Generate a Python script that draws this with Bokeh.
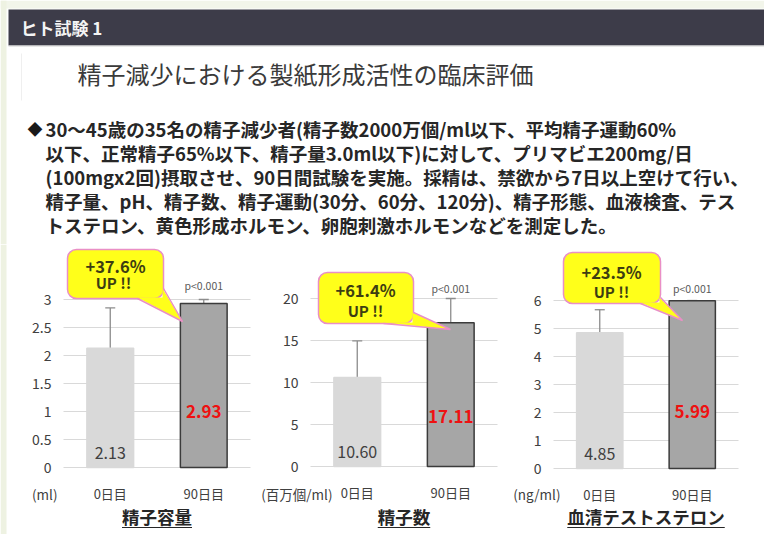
from bokeh.plotting import figure
from bokeh.layouts import column, row
from bokeh.models import (ColumnDataSource, Range1d, FixedTicker,
                          NumeralTickFormatter, Whisker)
from bokeh.core.properties import value
from bokeh.embed import file_html
from bokeh.resources import INLINE

FONT = "Noto Sans CJK JP"

# ---------------- data ----------------
header_text = "ヒト試験 1"
title_text = "精子減少における製紙形成活性の臨床評価"
paragraph_lines = [
    "30～45歳の35名の精子減少者(精子数2000万個/ml以下、平均精子運動60%",
    "以下、正常精子65%以下、精子量3.0ml以下)に対して、プリマビエ200mg/日",
    "(100mgx2回)摂取させ、90日間試験を実施。採精は、禁欲から7日以上空けて行い、",
    "精子量、pH、精子数、精子運動(30分、60分、120分)、精子形態、血液検査、テス",
    "トステロン、黄色形成ホルモン、卵胞刺激ホルモンなどを測定した。",
]

categories = ["0日目", "90日目"]

volume_mean = [2.13, 2.93]
volume_lower = [1.41, 2.00]
volume_upper = [2.85, 3.00]
volume_ticks = [0, 0.5, 1, 1.5, 2, 2.5, 3]

count_mean = [10.60, 17.11]
count_lower = [6.35, 8.25]
count_upper = [14.95, 20.0]
count_ticks = [0, 5, 10, 15, 20]

testo_mean = [4.85, 5.99]
testo_lower = [4.03, 4.93]
testo_upper = [5.67, 6.00]
testo_ticks = [0, 1, 2, 3, 4, 5, 6]

chart_titles = ["精子容量", "精子数", "血清テストステロン"]
unit_labels = ["(ml)", "(百万個/ml)", "(ng/ml)"]
increase_labels = ["+37.6%", "+61.4%", "+23.5%"]
up_label = "UP !!"
p_labels = ["p<0.001", "p<0.001", "p<0.001"]

# ---------------- style / layout (page pixels) ----------------
PAGE_W, PAGE_H = 764, 534
TOP_H = 244
TICK_SPAN_PX = 168
DARK = "#404040"
TEXT = "#262626"
YELLOW = "#ffff1a"
PINK = "#e98fc6"
MARGIN_GREEN = "#eef2e2"

chart_layout = [
    dict(ox=0, w=256, gx0=63, gx1=250, base=467, unit_right=57, red_y=411,
         box=(67, 298, 163, 249), b1x=137, b2y=288, tip=(182, 321),
         t1=(115, 265), t2=(113, 282), p_y=285, stripe=True),
    dict(ox=256, w=248, gx0=310, gx1=497, base=466, unit_right=332, red_y=416,
         box=(318, 323, 413, 272), b1x=383, b2y=312, tip=(450, 329),
         t1=(365, 289), t2=(365, 310), p_y=288, stripe=False),
    dict(ox=504, w=260, gx0=553, gx1=738, base=468, unit_right=560, red_y=411,
         box=(563, 303, 660, 252), b1x=640, b2y=297, tip=(682, 320),
         t1=(611, 271), t2=(611, 291), p_y=288, stripe=False),
]
TITLE_FS = 17.5


def make_chart(means, lower, upper, ticks, title, unit, inc, ptxt, L):
    ymax = ticks[-1]
    cu = (L["gx1"] - L["gx0"]) / len(categories)

    def X(px):
        return (px - L["gx0"]) / cu

    def Y(py):
        return (L["base"] - py) * ymax / TICK_SPAN_PX

    xs = [i + 0.5 for i in range(len(categories))]

    p = figure(width=L["w"], height=PAGE_H - TOP_H,
               x_range=Range1d(X(L["ox"]), X(L["ox"] + L["w"])),
               y_range=Range1d(Y(PAGE_H), Y(TOP_H)),
               output_backend="svg", toolbar_location=None)
    p.min_border = 0
    p.outline_line_color = None
    p.background_fill_color = "white"
    p.border_fill_color = "white"

    if L["stripe"]:
        p.quad(left=X(0), right=X(6), bottom=Y(PAGE_H), top=Y(TOP_H),
               fill_color=MARGIN_GREEN, line_color=None)

    # axes drawn inside the frame
    p.xaxis.fixed_location = 0
    p.yaxis.fixed_location = 0
    p.xaxis.ticker = FixedTicker(ticks=xs)
    p.xaxis.major_label_overrides = {x: c for x, c in zip(xs, categories)}
    p.yaxis.ticker = FixedTicker(ticks=ticks)
    p.yaxis.formatter = NumeralTickFormatter(format="0.[0]")
    for ax in (p.xaxis, p.yaxis):
        ax.axis_line_color = None
        ax.major_tick_line_color = None
        ax.minor_tick_line_color = None
        ax.major_tick_out = 0
        ax.major_tick_in = 0
        ax.major_label_text_font = FONT
        ax.major_label_text_color = DARK
    p.yaxis.major_label_text_font_size = "14px"
    p.yaxis.major_label_standoff = 12
    p.xaxis.major_label_text_font_size = "13px"
    p.xaxis.major_label_standoff = 16

    p.xgrid.visible = False
    p.ygrid.ticker = FixedTicker(ticks=ticks)
    p.ygrid.grid_line_color = "#d9d9d9"
    p.ygrid.grid_line_width = 1
    try:
        p.ygrid.cross_bounds = (0, len(categories))
    except AttributeError:
        p.ygrid.visible = False
        p.segment(x0=[0] * len(ticks), x1=[len(categories)] * len(ticks),
                  y0=ticks, y1=ticks, line_color="#d9d9d9", line_width=1)

    src = ColumnDataSource(dict(
        x=xs, mean=means, lower=lower, upper=upper,
        fill=["#d9d9d9", "#a6a6a6"], line=["#d9d9d9", "#3b3b3b"]))
    p.vbar(x="x", top="mean", width=0.5, fill_color="fill",
           line_color="line", line_width=1.5, source=src)

    wh = Whisker(source=src, base="x", lower="lower", upper="upper",
                 line_color="#8c8c8c", line_width=1.3)
    for head in (wh.upper_head, wh.lower_head):
        head.size = 10
        head.line_color = "#8c8c8c"
        head.line_width = 1.3
    p.add_layout(wh)

    # value labels inside bars
    p.text(x=[xs[0]], y=[Y(L["base"] - 15)], text=[f"{means[0]:.2f}"],
           text_font=value(FONT), text_font_size="16px", text_color=DARK,
           text_align="center", text_baseline="middle")
    p.text(x=[xs[1]], y=[Y(L["red_y"])], text=[f"{means[1]:.2f}"],
           text_font=value(FONT), text_font_size="17px", text_font_style="bold",
           text_color="#ee1111", text_align="center", text_baseline="middle")

    # p value
    p.text(x=[xs[1]], y=[Y(L["p_y"])], text=[ptxt],
           text_font=value(FONT), text_font_size="10.5px", text_color="#595959",
           text_align="center", text_baseline="middle")

    # callout
    bx0, by0, bx1, by1 = L["box"]
    p.quad(left=X(bx0), right=X(bx1), bottom=Y(by0), top=Y(by1),
           fill_color=YELLOW, line_color=PINK, line_width=1.5, border_radius=9)
    tx, ty = L["tip"]
    p.patch(x=[X(L["b1x"]), X(tx), X(bx1 - 1), X(bx1 - 1)],
            y=[Y(by0 - 1), Y(ty), Y(L["b2y"]), Y(by0 - 1)],
            fill_color=YELLOW, line_color=None)
    p.line(x=[X(L["b1x"]), X(tx), X(bx1)], y=[Y(by0), Y(ty), Y(L["b2y"])],
           line_color=PINK, line_width=1.5)
    p.text(x=[X(L["t1"][0])], y=[Y(L["t1"][1])], text=[inc],
           text_font=value(FONT), text_font_size="16.5px", text_font_style="bold",
           text_color="#3d3d12", text_align="center", text_baseline="middle")
    p.text(x=[X(L["t2"][0])], y=[Y(L["t2"][1])], text=[up_label],
           text_font=value(FONT), text_font_size="15px", text_font_style="bold",
           text_color="#3d3d12", text_align="center", text_baseline="middle")

    # unit label, chart title with underline
    p.text(x=[X(L["unit_right"])], y=[Y(493)], text=[unit],
           text_font=value(FONT), text_font_size="13.5px", text_color=DARK,
           text_align="right", text_baseline="middle")
    mid = len(categories) / 2
    p.text(x=[mid], y=[Y(516)], text=[title],
           text_font=value(FONT), text_font_size=f"{TITLE_FS}px", text_font_style="bold",
           text_color=TEXT, text_align="center", text_baseline="middle")
    hw = len(title) * TITLE_FS / 2 / cu
    p.line(x=[mid - hw, mid + hw], y=[Y(527), Y(527)], line_color=TEXT, line_width=1.2)
    return p


# ---------------- top (header / text) ----------------
top = figure(width=PAGE_W, height=TOP_H, x_range=Range1d(0, PAGE_W),
             y_range=Range1d(TOP_H, 0), x_axis_type=None, y_axis_type=None,
             output_backend="svg", toolbar_location=None)
top.min_border = 0
top.outline_line_color = None
top.grid.visible = False
top.quad(left=0, right=PAGE_W, top=0, bottom=8, fill_color="#f2f5ea", line_color=None)
top.quad(left=0, right=6, top=0, bottom=TOP_H, fill_color=MARGIN_GREEN, line_color=None)
top.quad(left=8, right=PAGE_W, top=9, bottom=45, fill_color="#3d3c49", line_color=None)
top.line(x=[8, PAGE_W], y=[45.5, 45.5], line_color="#cfcfcf", line_width=1)
top.text(x=[20], y=[27], text=[header_text], text_font=value(FONT),
         text_font_style="bold", text_font_size="17px", text_color="#f4f4f4",
         text_baseline="middle")
top.line(x=[21, 21], y=[53, 100], line_color="#efefef", line_width=1)
top.text(x=[77], y=[73], text=[title_text], text_font=value(FONT),
         text_font_size="24px", text_color="#3a3a3a", text_baseline="middle")
top.text(x=[27], y=[128], text=["◆"], text_font=value(FONT),
         text_font_size="15px", text_color="#1a1a1a", text_baseline="middle")
top.text(x=[45] * len(paragraph_lines), y=[128 + 24 * i for i in range(len(paragraph_lines))],
         text=paragraph_lines, text_font=value(FONT), text_font_style="bold",
         text_font_size="18.5px", text_color=TEXT, text_baseline="middle")

c1 = make_chart(volume_mean, volume_lower, volume_upper, volume_ticks,
                chart_titles[0], unit_labels[0], increase_labels[0], p_labels[0], chart_layout[0])
c2 = make_chart(count_mean, count_lower, count_upper, count_ticks,
                chart_titles[1], unit_labels[1], increase_labels[1], p_labels[1], chart_layout[1])
c3 = make_chart(testo_mean, testo_lower, testo_upper, testo_ticks,
                chart_titles[2], unit_labels[2], increase_labels[2], p_labels[2], chart_layout[2])

layout = column(top, row(c1, c2, c3))
open("out.html", "w").write(file_html(layout, INLINE, "ヒト試験 1"))
